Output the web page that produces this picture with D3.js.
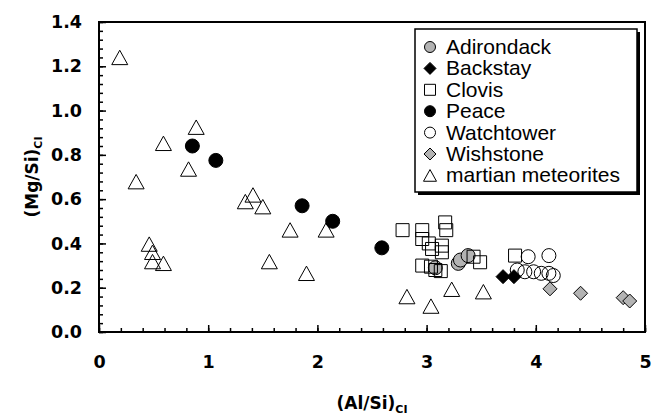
<!DOCTYPE html>
<html><head><meta charset="utf-8">
<script src="https://cdn.jsdelivr.net/npm/d3@7"></script>
<style>body{margin:0;background:#fff}svg{display:block}</style>
</head><body><svg id="c" width="666" height="419"></svg>
<script>
// ---- data (x = (Al/Si)CI, y = (Mg/Si)CI) ----
const seriesNames = ["Adirondack","Backstay","Clovis","Peace","Watchtower","Wishstone","martian meteorites"];
const adirondack = [[3.08,0.29],[3.29,0.31],[3.31,0.325],[3.38,0.345]];
const backstay = [[3.70,0.25],[3.80,0.25]];
const clovis = [[2.78,0.46],[2.96,0.46],[3.17,0.495],[3.18,0.46],[2.96,0.42],[3.02,0.40],[3.14,0.39],
  [3.05,0.375],[3.14,0.36],[2.96,0.30],[3.04,0.295],[3.08,0.28],[3.13,0.275],[3.43,0.34],[3.49,0.315],[3.81,0.345]];
const peace = [[0.855,0.84],[1.07,0.775],[1.86,0.57],[2.14,0.50],[2.59,0.38]];
const watchtower = [[3.93,0.34],[4.12,0.345],[3.83,0.28],[3.90,0.272],[3.98,0.272],[4.05,0.265],[4.12,0.265],[4.16,0.255]];
const wishstone = [[4.13,0.195],[4.41,0.175],[4.80,0.155],[4.86,0.14]];
const martian = [[0.19,1.24],[0.89,0.925],[0.59,0.852],[0.82,0.736],[0.34,0.679],[1.41,0.619],[1.34,0.589],
  [1.50,0.566],[1.75,0.461],[2.08,0.461],[0.46,0.397],[0.49,0.36],[0.49,0.318],[0.59,0.31],[1.56,0.318],
  [1.90,0.265],[2.82,0.16],[3.04,0.117],[3.23,0.193],[3.52,0.182]];
const xTicks = [0,1,2,3,4,5];
const yTicks = [0,0.2,0.4,0.6,0.8,1.0,1.2,1.4];

const seriesData = [adirondack, backstay, clovis, peace, watchtower, wishstone, martian];

// ---- symbols (size = width in px) ----
const symCircle = {draw(ctx,s){ctx.moveTo(s/2,0);ctx.arc(0,0,s/2,0,2*Math.PI);}};
const symSquare = {draw(ctx,s){ctx.rect(-s/2,-s/2,s,s);}};
const symDiamond = {draw(ctx,s){const h=s/2;ctx.moveTo(0,-h);ctx.lineTo(h,0);ctx.lineTo(0,h);ctx.lineTo(-h,0);ctx.closePath();}};
const symTriangle = {draw(ctx,s){const w=s/2,h=s*0.45;ctx.moveTo(0,-h);ctx.lineTo(w,h);ctx.lineTo(-w,h);ctx.closePath();}};
const GRAY = "#b3b3b3";
const styles = [
  {sym:symCircle, size:14, lsize:11, fill:GRAY},
  {sym:symDiamond, size:14, lsize:12, fill:"#000"},
  {sym:symSquare, size:13, lsize:11, fill:"none"},
  {sym:symCircle, size:14, lsize:11, fill:"#000"},
  {sym:symCircle, size:14, lsize:11, fill:"none"},
  {sym:symDiamond, size:14, lsize:12, fill:GRAY},
  {sym:symTriangle, size:16, lsize:13, fill:"none"}
];

const svg = d3.select("#c");
const L=99, R=645, T=22, B=332;
const x = d3.scaleLinear().domain([0,5]).range([L,R]);
const y = d3.scaleLinear().domain([0,1.4]).range([B,T]);
const TF = "'DejaVu Sans', sans-serif";

// minor ticks
svg.append("g").attr("transform",`translate(0,${B})`)
  .call(d3.axisBottom(x).tickValues(d3.range(0,5.001,0.2)).tickSize(-4).tickFormat(""))
  .call(g=>g.select(".domain").remove())
  .call(g=>g.selectAll("line").attr("stroke-width",1.5));
svg.append("g").attr("transform",`translate(${L},0)`)
  .call(d3.axisLeft(y).tickValues(d3.range(0,1.4001,0.04)).tickSize(-4).tickFormat(""))
  .call(g=>g.select(".domain").remove())
  .call(g=>g.selectAll("line").attr("stroke-width",1.5));
// major ticks + labels
svg.append("g").attr("transform",`translate(0,${B})`)
  .call(d3.axisBottom(x).tickValues(xTicks).tickSize(-7).tickPadding(24).tickFormat(d3.format("d")))
  .call(g=>g.select(".domain").remove())
  .call(g=>g.selectAll("line").attr("stroke-width",1.5))
  .call(g=>g.selectAll("text").attr("font-family",TF).attr("font-weight","bold").attr("font-size",17.5).attr("fill","#000"));
svg.append("g").attr("transform",`translate(${L},0)`)
  .call(d3.axisLeft(y).tickValues(yTicks).tickSize(-7).tickPadding(17).tickFormat(d3.format(".1f")))
  .call(g=>g.select(".domain").remove())
  .call(g=>g.selectAll("line").attr("stroke-width",1.5))
  .call(g=>g.selectAll("text").attr("font-family",TF).attr("font-weight","bold").attr("font-size",17.5).attr("fill","#000"));

// frame
svg.append("rect").attr("x",L).attr("y",T).attr("width",R-L).attr("height",B-T)
  .attr("fill","none").attr("stroke","#000").attr("stroke-width",2);

// axis titles
const xt = svg.append("text").attr("x",(L+R)/2).attr("y",409).attr("text-anchor","middle")
  .attr("font-family",TF).attr("font-weight","bold").attr("font-size",17);
xt.append("tspan").text("(Al/Si)");
xt.append("tspan").attr("font-size",11).attr("dy",4).text("CI");
const yt = svg.append("text").attr("transform",`translate(38,${(T+B)/2}) rotate(-90)`).attr("text-anchor","middle")
  .attr("font-family",TF).attr("font-weight","bold").attr("font-size",17);
yt.append("tspan").text("(Mg/Si)");
yt.append("tspan").attr("font-size",11).attr("dy",4).text("CI");

// points
seriesData.forEach((data,i)=>{
  const st = styles[i];
  svg.append("g").selectAll("path").data(data).join("path")
    .attr("transform",d=>`translate(${x(d[0])},${y(d[1])})`)
    .attr("d",d3.symbol().type(st.sym).size(st.size))
    .attr("fill",st.fill).attr("stroke","#000").attr("stroke-width",1);
});

// legend
const lg = svg.append("g");
lg.append("rect").attr("x",418).attr("y",32).attr("width",222).attr("height",163).attr("fill","#000");
lg.append("rect").attr("x",415).attr("y",29).attr("width",222).attr("height",163).attr("fill","#fff").attr("stroke","#000").attr("stroke-width",1.5);
seriesNames.forEach((n,i)=>{
  const st = styles[i], by = 54 + i*21.4;
  lg.append("path").attr("transform",`translate(430,${by-7})`)
    .attr("d",d3.symbol().type(st.sym).size(st.lsize))
    .attr("fill",st.fill==="none"?"#fff":st.fill).attr("stroke","#000").attr("stroke-width",1);
  lg.append("text").attr("x",446).attr("y",by).attr("font-family","'Liberation Sans', Arial, sans-serif")
    .attr("font-size",21).attr("fill","#000").text(n);
});
</script></body></html>
